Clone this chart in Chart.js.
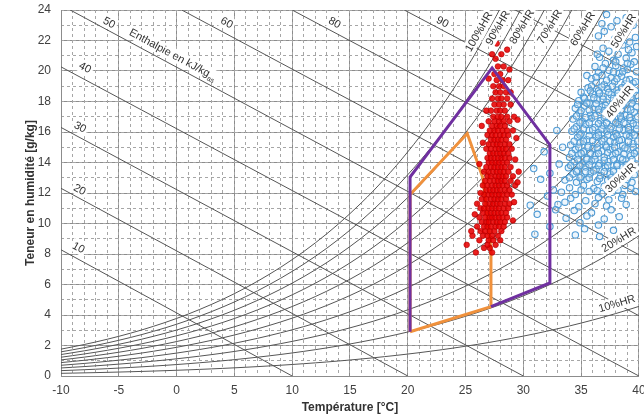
<!DOCTYPE html>
<html>
<head>
<meta charset="utf-8">
<script src="https://cdn.jsdelivr.net/npm/chart.js@4.4.0/dist/chart.umd.min.js"></script>
<style>
html, body { margin: 0; padding: 0; background: #fff; overflow: hidden; }
#wrap { width: 644px; height: 418px; }
</style>
</head>
<body>
<div id="wrap"><canvas id="psy"></canvas></div>
<script>
// Axes
const tempTicks = [-10, -5, 0, 5, 10, 15, 20, 25, 30, 35, 40];
const humTicks = [0, 2, 4, 6, 8, 10, 12, 14, 16, 18, 20, 22, 24];

// Saturation vapour pressure table (hPa) used for the RH curves
const satTemps = [-10,-9,-8,-7,-6,-5,-4,-3,-2,-1,0,1,2,3,4,5,6,7,8,9,10,11,12,13,14,15,16,17,18,19,20,
  21,22,23,24,25,26,27,28,29,30,31,32,33,34,35,36,37,38,39,40];
const satPressure = [2.86,3.10,3.35,3.62,3.91,4.22,4.55,4.90,5.28,5.68,6.11,6.57,7.06,7.58,8.13,8.72,9.35,
  10.02,10.73,11.48,12.28,13.12,14.02,14.97,15.98,17.05,18.18,19.37,20.64,21.97,23.39,24.87,26.44,28.09,
  29.84,31.68,33.61,35.65,37.80,40.06,42.43,44.93,47.55,50.30,53.20,56.24,59.42,62.77,66.28,69.96,73.81];
const rhLevels = [10, 20, 30, 40, 50, 60, 70, 80, 90, 100];

// RH tags (text, centre position)
const rhTagText = ['10%HR','20%HR','30%HR','40%HR','50%HR','60%HR','70%HR','80%HR','90%HR','100%HR'];
const rhTagPos = [[38.1,4.72],[38.27,8.92],[38.45,12.98],[38.36,17.97],[38.7,22.62],[35.16,22.75],
  [32.31,22.89],[29.9,22.89],[27.82,22.82],[26.18,22.56]];

// Enthalpy lines (kJ/kg): temperature where each crosses 24 g/kg and 0 g/kg
const enthalpyValues = [10, 20, 30, 40, 50, 60, 70, 80, 90];
const enthalpyTopT = [-48, -38.5, -28.9, -19.2, -9.2, 0.45, 10.0, 19.7, 29.3];
const enthalpyBottomT = [10, 20, 30, 40, 49.7, 59.6, 69.6, 79.5, 89.5];
const enthalpyTagText = ['10', '20', '30', '40', '50', '60', '80', '90'];
const enthalpyTagLine = [0, 1, 2, 3, 4, 5, 6, 7];
const enthalpyTagPos = [[-8.5,8.4],[-8.4,12.2],[-8.36,16.3],[-7.93,20.2],[-5.85,23.15],[4.33,23.15],[13.66,23.15],[22.99,23.2]];
const enthalpyTitlePos = [-0.33, 21.05];

// Comfort zones
const purpleZone = [[27.2,4.55],[32.3,6.1],[32.3,15.15],[27.3,20.2],[20.2,13.05],[20.2,2.9]];
const orangeZone = [[20.2,2.9],[27.2,4.55],[27.2,8.3],[26.5,13.0],[25.15,15.9],[20.2,11.9],[20.2,2.9]];

// Measured points, red: [humidity, [temperatures]]
const redRows = [
  [8.1,[25.9,27.3]],
  [8.4,[26.6,27.1]],
  [8.6,[25.1,26.9,27.6]],
  [8.9,[26.2,27.0,27.4,28.0]],
  [9.2,[25.6,26.5,26.9,27.3,27.8]],
  [9.5,[25.5,26.3,26.7,27.1,27.5,28.1]],
  [9.8,[26.0,26.6,26.9,27.2,27.6,27.9,28.3]],
  [10.1,[26.4,26.8,27.0,27.4,27.7,28.0,28.4]],
  [10.4,[26.2,26.7,27.1,27.3,27.6,27.9,28.2,28.6]],
  [10.7,[26.5,26.9,27.2,27.5,27.8,28.1,28.5]],
  [11.0,[26.3,26.6,27.0,27.3,27.6,27.9,28.3,28.7]],
  [11.3,[26.7,27.1,27.4,27.7,28.0,28.4,28.8]],
  [11.6,[26.4,26.8,27.2,27.5,27.8,28.1,28.5]],
  [11.9,[26.6,27.0,27.3,27.6,27.9,28.2,28.6,29.0]],
  [12.2,[26.8,27.1,27.4,27.7,28.0,28.4,28.8]],
  [12.5,[26.5,26.9,27.3,27.6,27.9,28.2,28.6,29.3]],
  [12.8,[26.7,27.1,27.5,27.8,28.1,28.4,28.9]],
  [13.1,[26.9,27.2,27.6,27.9,28.2,28.5,29.1]],
  [13.4,[26.6,27.0,27.4,27.7,28.0,28.3,28.7]],
  [13.7,[26.8,27.2,27.5,27.8,28.1,28.4,28.9]],
  [14.0,[27.0,27.3,27.6,27.9,28.2,28.6]],
  [14.3,[26.9,27.2,27.5,27.8,28.1,28.4,28.8]],
  [14.6,[27.1,27.4,27.7,28.0,28.3,28.7]],
  [14.9,[26.8,27.2,27.6,27.9,28.2,28.5,29.0]],
  [15.2,[27.0,27.4,27.7,28.0,28.4,28.8]],
  [15.5,[27.2,27.5,27.8,28.1,28.5]],
  [15.8,[26.9,27.3,27.6,28.0,28.3,28.7]],
  [16.1,[27.1,27.5,27.8,28.2,28.6,29.1]],
  [16.4,[27.3,27.7,28.0,28.4]],
  [16.7,[27.0,27.5,27.9,28.3,28.8]],
  [17.0,[27.4,27.8,28.1,28.6,29.2]],
  [17.4,[27.2,27.7,28.0,28.4]],
  [17.8,[27.5,27.9,28.3,28.9]],
  [18.2,[27.3,27.8,28.1,28.6]],
  [18.6,[27.6,28.0,28.5]],
  [19.0,[27.4,27.9,28.3]],
  [19.4,[27.7,28.2,28.7]],
  [19.8,[27.5,28.0]],
  [20.3,[27.8,28.3]],
  [20.8,[27.6]],
  [21.1,[27.3,28.1]],
  [21.8,[27.7]]
];
// scattered red points around the edge of the cloud: [temperature, humidity]
const redEdge = [
  [29.5,12.7],[29.3,14.2],[29.4,15.6],[26.3,12.0],[26.2,13.9],[26.5,15.3],[29.6,13.4],[26.0,11.3],
  [29.2,11.4],[28.9,18.6],[28.8,20.1],[27.0,19.5],[26.8,17.4],[26.4,16.4],[29.5,16.8],[25.8,10.6],
  [29.1,10.2],[28.6,21.4],[27.9,22.6]
];

// Measured points, blue: [temperature, humidity]
const bluePoints = [
  [37.2,23.7],[38.9,23.5],[36.8,23.1],[38.1,23.3],[39.5,23.0],[37.6,22.9],[39.0,22.7],
  [36.5,22.3],[38.4,22.5],[39.7,22.2],[37.9,22.1],[39.2,21.9],[36.9,21.5],[38.6,21.7],[39.8,21.6],
  [37.4,21.3],[38.2,21.1],[39.4,21.2],[36.6,20.9],[37.8,20.7],[38.9,20.85],[39.6,20.6],
  [36.2,20.3],[37.1,20.5],[38.0,20.35],[38.7,20.2],[39.3,20.45],
  [36.5,19.9],[37.4,20.05],[38.3,19.85],[39.0,20.1],[39.8,19.95],
  [35.9,19.5],[36.8,19.7],[37.6,19.55],[38.5,19.65],[39.2,19.45],
  [36.3,19.25],[37.0,19.1],[37.9,19.3],[38.8,19.15],[39.5,19.2],
  [35.6,18.9],[36.5,18.7],[37.3,18.85],[38.1,18.75],[38.9,18.95],[39.7,18.7],
  [35.2,18.3],[36.0,18.5],[36.9,18.35],[37.6,18.45],[38.4,18.3],[39.1,18.5],
  [34.8,18.05],[35.7,17.9],[36.4,18.1],[37.2,17.95],[38.0,18.0],[38.7,17.85],[39.5,18.1],
  [34.5,17.55],[35.3,17.7],[36.1,17.5],[36.8,17.65],[37.5,17.55],[38.3,17.7],[39.0,17.5],[39.8,17.65],
  [34.9,17.25],[35.8,17.1],[36.6,17.3],[37.3,17.15],[38.1,17.25],[38.8,17.1],[39.6,17.3],
  [34.3,16.85],[35.1,16.7],[35.9,16.9],[36.7,16.75],[37.4,16.9],[37.8,16.7],[38.5,16.85],[39.3,16.75],
  [34.6,16.35],[35.4,16.5],[36.2,16.3],[36.9,16.45],[37.6,16.35],[38.3,16.5],[39.1,16.3],[39.8,16.45],
  [34.2,16.05],[35.0,15.9],[35.7,16.1],[36.5,15.95],[37.2,16.05],[38.0,15.9],[38.7,16.1],[39.4,15.95],
  [34.7,15.65],[35.5,15.5],[36.3,15.7],[37.0,15.55],[37.8,15.65],[38.5,15.5],[39.2,15.7],
  [34.1,15.15],[34.9,15.3],[35.6,15.1],[36.4,15.25],[37.1,15.15],[37.9,15.3],[38.6,15.1],[39.5,15.25],
  [34.5,14.85],[35.2,14.7],[36.0,14.9],[36.8,14.75],[37.5,14.85],[38.2,14.7],[39.0,14.9],[39.8,14.75],
  [34.0,14.35],[34.8,14.5],[35.5,14.3],[36.2,14.45],[37.0,14.35],[37.7,14.5],[38.4,14.3],[39.3,14.45],
  [34.4,14.05],[35.1,13.9],[35.9,14.1],[36.6,13.95],[37.4,14.05],[38.1,13.9],[38.9,14.1],
  [33.9,13.65],[34.7,13.5],[35.4,13.7],[36.3,13.55],[37.1,13.65],[37.8,13.5],[38.6,13.7],[39.6,13.55],
  [34.3,13.25],[35.0,13.1],[35.8,13.3],[36.7,13.15],[37.5,13.25],[38.3,13.1],[39.2,13.3],
  [33.6,12.85],[34.6,12.7],[35.5,12.9],[36.4,12.75],[37.3,12.85],[38.0,12.7],[39.0,12.9],
  [34.0,12.35],[35.2,12.5],[36.1,12.3],[37.0,12.45],[37.9,12.35],[38.8,12.5],
  [33.3,12.05],[34.5,11.9],[35.7,12.1],[36.8,11.95],[37.7,12.05],[38.6,11.9],[39.7,12.1],
  [34.1,11.65],[35.4,11.5],[36.5,11.7],[37.4,11.55],[38.5,11.65],
  [33.0,11.25],[34.8,11.1],[36.2,11.3],[37.2,11.15],[38.9,11.25],
  [34.4,10.85],[35.9,10.7],[37.6,10.9],[33.7,10.35],[35.5,10.5],[37.0,10.3],[38.3,10.45],
  [34.9,10.05],[36.5,9.9],[35.3,9.65],[37.8,9.55],[34.5,9.25],[36.6,9.15],
  [31.8,14.7],[33.1,13.9],[31.5,12.9],[32.6,12.2],[30.6,11.2],[31.2,10.6],[32.3,9.8],[31.0,9.3],
  [32.8,10.9],[30.9,13.6],[32.1,11.8],[33.4,15.0],[32.9,16.1],[32.3,13.3],[33.6,11.4],
  [37.0,22.6],[38.5,22.0],[37.7,21.8],[39.1,21.4],[36.4,21.1],[38.0,20.6],[39.0,20.5],[36.9,20.2],
  [37.8,19.95],[38.6,19.95],[35.5,19.7],[36.3,19.6],[37.2,19.4],[38.1,19.5],[38.9,19.4],[39.7,19.3],
  [35.9,19.0],[36.8,18.95],[37.7,19.0],[38.5,18.9],[39.3,18.95],
  [35.0,18.6],[35.8,18.7],[36.6,18.55],[37.4,18.6],[38.2,18.55],[39.0,18.65],[39.8,18.4],
  [35.3,18.2],[36.1,18.25],[36.9,18.15],[37.8,18.2],[38.6,18.15],[39.4,18.25],
  [34.7,17.8],[35.5,17.9],[36.3,17.85],[37.1,17.75],[37.9,17.85],[38.6,17.75],[39.4,17.9],
  [35.0,17.4],[35.7,17.45],[36.5,17.5],[37.0,17.4],[37.8,17.45],[38.5,17.4],[39.3,17.45],
  [34.6,17.05],[35.4,16.95],[36.2,17.05],[37.0,16.95],[37.7,17.0],[38.4,17.05],[39.2,16.95],[39.9,17.0],
  [34.9,16.6],[35.7,16.6],[36.5,16.55],[37.2,16.6],[38.0,16.6],[38.7,16.6],[39.5,16.55],
  [34.4,16.2],[35.2,16.2],[36.0,16.15],[36.8,16.2],[37.5,16.2],[38.3,16.2],[39.1,16.15],[39.8,16.2],
  [34.9,15.8],[35.7,15.75],[36.5,15.8],[37.3,15.8],[38.1,15.75],[38.9,15.8],[39.6,15.8],
  [34.4,15.4],[35.2,15.4],[36.0,15.45],[36.8,15.4],[37.5,15.4],[38.3,15.45],[39.1,15.4],[39.9,15.4],
  [34.8,15.0],[35.6,15.0],[36.4,14.95],[37.2,15.0],[37.9,15.0],[38.8,14.95],[39.5,15.0],
  [34.2,14.6],[35.0,14.6],[35.8,14.6],[36.5,14.6],[37.3,14.65],[38.0,14.6],[38.7,14.55],[39.6,14.6],
  [34.7,14.2],[35.5,14.2],[36.2,14.2],[37.0,14.15],[37.8,14.2],[38.6,14.2],[39.4,14.2],
  [34.1,13.8],[34.9,13.8],[35.7,13.85],[36.5,13.8],[37.3,13.8],[38.1,13.8],[38.9,13.85],[39.8,13.9],
  [34.6,13.4],[35.4,13.4],[36.1,13.45],[37.0,13.4],[37.8,13.4],[38.7,13.45],[39.6,13.2],
  [34.0,13.0],[34.9,13.0],[35.7,13.0],[36.6,12.95],[37.6,13.0],[38.5,12.95],[39.4,12.7],
  [35.0,12.2],[36.4,12.15],[38.2,12.2],[39.3,12.3]
];

const FONT = '"Liberation Sans", Arial, sans-serif';
const P_ATM = 1013.25;

function humidityAt(rh, i) {
  const pv = rh / 100 * satPressure[i];
  return 622 * pv / (P_ATM - pv);
}

function humidityAtT(rh, t) {
  const i = Math.max(0, Math.min(satTemps.length - 2, Math.floor(t - satTemps[0])));
  const f = t - satTemps[i];
  return humidityAt(rh, i) * (1 - f) + humidityAt(rh, i + 1) * f;
}

const datasets = [];

rhLevels.forEach(rh => {
  datasets.push({
    data: satTemps.map((t, i) => ({ x: t, y: humidityAt(rh, i) })),
    showLine: true, pointRadius: 0, borderColor: '#555', borderWidth: 1,
    cubicInterpolationMode: 'monotone', order: 10
  });
});

enthalpyValues.forEach((h, i) => {
  datasets.push({
    data: [{ x: enthalpyTopT[i], y: 24 }, { x: enthalpyBottomT[i], y: 0 }],
    showLine: true, pointRadius: 0, borderColor: '#555', borderWidth: 1, order: 10
  });
});

datasets.push({
  data: orangeZone.map(p => ({ x: p[0], y: p[1] })),
  showLine: true, pointRadius: 0, borderColor: '#f0913c', borderWidth: 3, order: 4
});
datasets.push({
  data: redRows.flatMap(([w, ts]) => ts.map(t => ({ x: t, y: w })))
    .concat(redEdge.map(p => ({ x: p[0], y: p[1] }))),
  pointRadius: 2.8, backgroundColor: 'rgba(232,0,0,0.88)', borderColor: 'rgba(175,0,0,0.9)',
  borderWidth: 0.7, order: 3
});
datasets.push({
  data: bluePoints.map(p => ({ x: p[0], y: p[1] })),
  pointRadius: 3.2, backgroundColor: 'rgba(200,225,245,0.3)', borderColor: 'rgb(80,156,214)',
  borderWidth: 1.1, order: 2
});
datasets.push({
  data: purpleZone.map(p => ({ x: p[0], y: p[1] })),
  showLine: true, pointRadius: 0, borderColor: '#7030a0', borderWidth: 3, order: 1
});

function drawTag(ctx, text, x, y, angle, sub) {
  ctx.save();
  ctx.translate(x, y);
  ctx.rotate(angle);
  ctx.font = '11px ' + FONT;
  const w = ctx.measureText(text).width;
  let sw = 0;
  if (sub) { ctx.font = '7px ' + FONT; sw = ctx.measureText(sub).width; }
  const total = w + sw;
  ctx.fillStyle = '#fff';
  ctx.fillRect(-total / 2 - 2, -7, total + 4, 13);
  ctx.fillStyle = '#333';
  ctx.textBaseline = 'middle';
  ctx.textAlign = 'left';
  ctx.font = '11px ' + FONT;
  ctx.fillText(text, -total / 2, 0);
  if (sub) { ctx.font = '7px ' + FONT; ctx.fillText(sub, -total / 2 + w, 4); }
  ctx.restore();
}

const tagPlugin = {
  id: 'psyTags',
  afterDatasetsDraw(chart) {
    const ctx = chart.ctx, xs = chart.scales.x, ys = chart.scales.y;
    const px = t => xs.getPixelForValue(t), py = w => ys.getPixelForValue(w);

    enthalpyTagText.forEach((txt, k) => {
      const i = enthalpyTagLine[k];
      const a = Math.atan2(py(0) - py(24), px(enthalpyBottomT[i]) - px(enthalpyTopT[i]));
      drawTag(ctx, txt, px(enthalpyTagPos[k][0]), py(enthalpyTagPos[k][1]), a);
    });
    const a50 = Math.atan2(py(0) - py(24), px(enthalpyBottomT[4]) - px(enthalpyTopT[4]));
    drawTag(ctx, 'Enthalpie en kJ/kg', px(enthalpyTitlePos[0]), py(enthalpyTitlePos[1]), a50, 'as');

    rhTagText.forEach((txt, k) => {
      const rh = rhLevels[k], t = rhTagPos[k][0];
      const a = Math.atan2(py(humidityAtT(rh, t + 0.5)) - py(humidityAtT(rh, t - 0.5)), px(t + 0.5) - px(t - 0.5));
      drawTag(ctx, txt, px(t), py(rhTagPos[k][1]), a);
    });
  }
};

const minorValues = (a, b) => Array.from({ length: b - a + 1 }, (_, i) => ({ value: a + i }));
const noPadX = s => { s.height = 42; s.paddingLeft = 0; s.paddingRight = 0; };
const noPadY = s => { s.width = 61; s.paddingTop = 0; s.paddingBottom = 0; };

new Chart(document.getElementById('psy'), {
  type: 'scatter',
  data: { datasets },
  options: {
    responsive: true,
    maintainAspectRatio: false,
    animation: false,
    layout: { padding: { top: 10, right: 3, left: 0, bottom: 0 } },
    plugins: { legend: { display: false }, tooltip: { enabled: false } },
    scales: {
      x: {
        type: 'linear', position: 'bottom', min: -10, max: 40,
        afterBuildTicks: s => { s.ticks = tempTicks.map(v => ({ value: v })); },
        afterFit: noPadX,
        grid: { color: '#8c8c8c', lineWidth: 1, drawTicks: false },
        border: { color: '#8c8c8c' },
        ticks: { color: '#404040', font: { size: 12, family: FONT }, padding: 7, maxRotation: 0, autoSkip: false },
        title: { display: true, text: 'Température [°C]', color: '#333', font: { size: 12, weight: 'bold', family: FONT }, padding: { top: 0, bottom: 3 } }
      },
      y: {
        type: 'linear', position: 'left', min: 0, max: 24,
        afterBuildTicks: s => { s.ticks = humTicks.map(v => ({ value: v })); },
        afterFit: noPadY,
        grid: { color: '#8c8c8c', lineWidth: 1, drawTicks: false },
        border: { color: '#8c8c8c' },
        ticks: { color: '#404040', font: { size: 12, family: FONT }, padding: 10, autoSkip: false },
        title: { display: true, text: 'Teneur en humidité [g/kg]', color: '#333', font: { size: 12, weight: 'bold', family: FONT }, padding: { top: 23, bottom: 0 } }
      },
      x2: {
        type: 'linear', position: 'bottom', min: -10, max: 40,
        afterBuildTicks: s => { s.ticks = minorValues(-10, 40); },
        afterFit: s => { s.height = 0; s.paddingLeft = 0; s.paddingRight = 0; },
        ticks: { display: false },
        grid: { color: '#a6a6a6', lineWidth: 1, drawTicks: false },
        border: { display: false, dash: [3, 3] }
      },
      y2: {
        type: 'linear', position: 'left', min: 0, max: 24,
        afterBuildTicks: s => { s.ticks = minorValues(0, 24); },
        afterFit: s => { s.width = 0; s.paddingTop = 0; s.paddingBottom = 0; },
        ticks: { display: false },
        grid: { color: '#a6a6a6', lineWidth: 1, drawTicks: false },
        border: { display: false, dash: [3, 3] }
      }
    }
  },
  plugins: [tagPlugin]
});
</script>
</body>
</html>
